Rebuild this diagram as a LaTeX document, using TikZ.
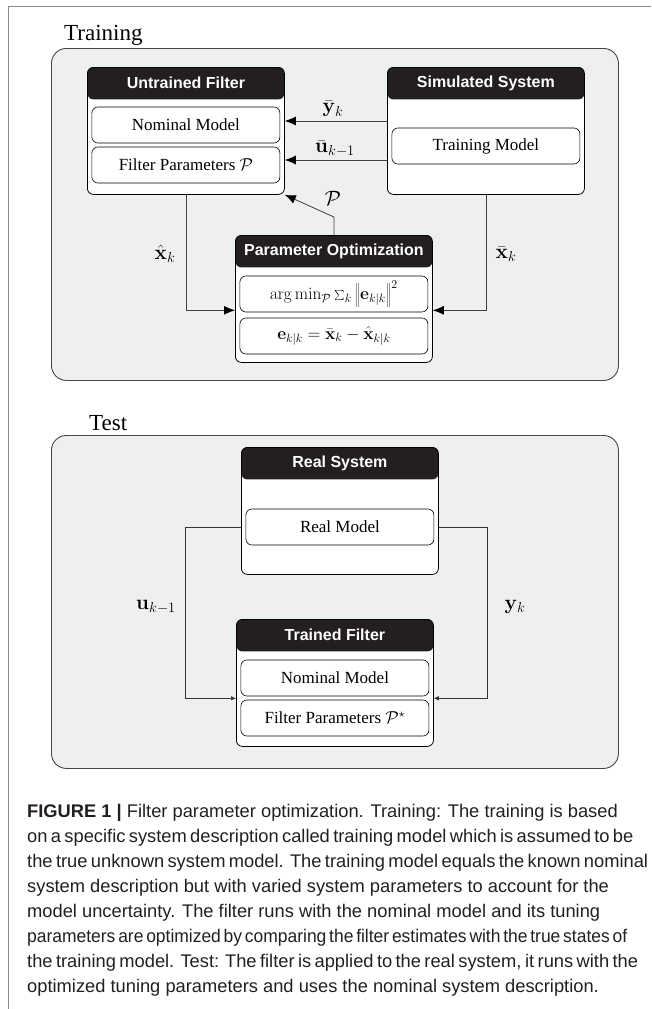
\documentclass[tikz,border=0pt]{standalone}
\usepackage[no-math]{fontspec}
\usepackage{graphicx}
\setmainfont{Liberation Serif}
\newfontfamily\hdrfont{Liberation Sans}
\newfontfamily\capfont{Liberation Sans}
\usetikzlibrary{arrows.meta,calc}
\definecolor{grpfill}{HTML}{EEEFEF}
\definecolor{hdrfill}{HTML}{231F20}
\definecolor{framegray}{HTML}{8A8A8A}
\definecolor{grpline}{HTML}{454545}
\definecolor{captext}{HTML}{231F20}
\newcommand\myblock[3]{%
  \node[blockbox, anchor=north west] (#1) at #2 {};
  \node[hdrtext] (#1-t) at ([yshift=-16pt]#1.north) {#3};
}
\begin{document}
\begin{tikzpicture}[x=1pt,y=-1pt,
  group/.style={draw=grpline, fill=grpfill, rounded corners=15pt, line width=0.9pt, inner sep=0pt, anchor=north west},
  blockbox/.style={draw=black, fill=white, rounded corners=6pt, minimum width=197pt, minimum height=127pt, inner sep=0pt, line width=0.8pt,
    path picture={\fill[hdrfill] (path picture bounding box.north west) rectangle ([yshift=-32pt]path picture bounding box.north east);}},
  hdrtext/.style={text=white, font=\hdrfont\bfseries\fontsize{16}{19}\selectfont, inner sep=0pt},
  innerbox/.style={draw=black, fill=white, rounded corners=6pt, minimum width=188pt, minimum height=36pt, inner sep=0pt, line width=0.6pt, font=\fontsize{17}{20}\selectfont},
  arr/.style={draw=black!75, line width=0.8pt, -{Latex[length=11pt,width=9pt,color=black]}},
  sarr/.style={draw=black!80, line width=0.6pt, -{Latex[length=5pt,width=4.5pt]}},
  lbl/.style={font=\fontsize{22}{26}\selectfont, inner sep=0pt},
  sectlbl/.style={font=\fontsize{23}{27}\selectfont, anchor=base west, inner sep=0pt},
  capline/.style={font=\capfont\fontsize{18.3}{25}\selectfont, text=captext, anchor=base west, inner sep=0pt}
]
\useasboundingbox (0,0) rectangle (651,1009);
% frame
\coordinate (fr1) at (651,6);
\coordinate (fr2) at (8,6);
\coordinate (fr3) at (8,1009);
\draw[framegray, line width=1pt] (fr1) -- (fr2) -- (fr3);

% ---------- Training ----------
\node[sectlbl] (trainlbl) at (64,40) {Training};
\node[group, minimum width=567pt, minimum height=332pt] (train) at (51,48) {};

\myblock{uf}{(87,67)}{Untrained Filter}
\node[innerbox] (ufnom) at ([yshift=-58pt]uf.north) {Nominal Model};
\node[innerbox] (ufpar) at ([yshift=-98pt]uf.north) {Filter Parameters $\mathcal{P}$};

\myblock{ss}{(387,67)}{Simulated System}
\node[innerbox] (sstm) at ([yshift=-79pt]ss.north) {Training Model};

\myblock{po}{(235,235)}{Parameter Optimization}
\node[innerbox] (poarg) at ([yshift=-59pt]po.north) {$\arg\min_{\mathcal{P}}\sum_k \left\|\mathbf{e}_{k|k}\right\|^2$};
\node[innerbox] (poe) at ([yshift=-101pt]po.north) {$\mathbf{e}_{k|k}=\bar{\mathbf{x}}_k-\hat{\mathbf{x}}_{k|k}$};

\draw[arr] ([yshift=4pt]ss.west |- ufnom.center) -- ([yshift=4pt]uf.east |- ufnom.center);
\draw[arr] ([yshift=5pt]ss.west |- ufpar.center) -- ([yshift=5pt]uf.east |- ufpar.center);
\node[lbl] (lyb) at (333,109) {$\bar{\mathbf{y}}_k$};
\node[lbl] (lub) at (335,149) {$\bar{\mathbf{u}}_{k-1}$};

\draw[arr] (po.north) -- ++(0,-18) -- (uf.south east);
\node[lbl] (lp) at (333,198) {$\mathcal{P}$};

\draw[arr] (uf.south) |- ([yshift=2pt]po.west |- poarg.south);
\draw[arr] (ss.south) |- ([yshift=2pt]po.east |- poarg.south);
\node[lbl] (lxh) at (165,254) {$\hat{\mathbf{x}}_k$};
\node[lbl] (lxb) at (506,254) {$\bar{\mathbf{x}}_k$};

% ---------- Test ----------
\node[sectlbl] (testlbl) at (89,430) {Test};
\node[group, minimum width=567pt, minimum height=333pt] (test) at (51,435) {};

\myblock{rs}{(241,447)}{Real System}
\node[innerbox] (rm) at ([yshift=-80pt]rs.north) {Real Model};

\myblock{tf}{(236,619)}{Trained Filter}
\node[innerbox] (tfnom) at ([yshift=-59pt]tf.north) {Nominal Model};
\node[innerbox] (tfpar) at ([yshift=-99pt]tf.north) {Filter Parameters $\mathcal{P}^{\star}$};

\draw[sarr] (rs.west |- rm.center) -- ++(-56,0) |- ([yshift=-2pt]tf.west |- tfnom.south);
\draw[sarr] (rs.east |- rm.center) -- ++(48,0) |- ([yshift=-2pt]tf.east |- tfnom.south);
\node[lbl] (lu) at (156,607) {$\mathbf{u}_{k-1}$};
\node[lbl] (ly) at (515,607) {$\mathbf{y}_k$};

% ---------- Caption ----------
\node[capline] (c1) at (27,817) {\textbf{FIGURE 1 |} Filter parameter optimization. Training: The training is based};
\node[capline] (c2) at (27,842) {\hbox to 600pt{on a specific system description called training model which is assumed to be}};
\node[capline] (c3) at (27,867) {\hbox to 600pt{the true unknown system model. The training model equals the known nominal}};
\node[capline] (c4) at (27,892) {system description but with varied system parameters to account for the};
\node[capline] (c5) at (27,917) {model uncertainty. The filter runs with the nominal model and its tuning};
\node[capline] (c6) at (27,942) {\resizebox{600pt}{\height}{\spaceskip=0.16em parameters are optimized by comparing the filter estimates with the true states of}};
\node[capline] (c7) at (27,967) {\hbox to 600pt{the training model. Test: The filter is applied to the real system, it runs with the}};
\node[capline] (c8) at (27,992) {optimized tuning parameters and uses the nominal system description.};
\end{tikzpicture}
\end{document}
